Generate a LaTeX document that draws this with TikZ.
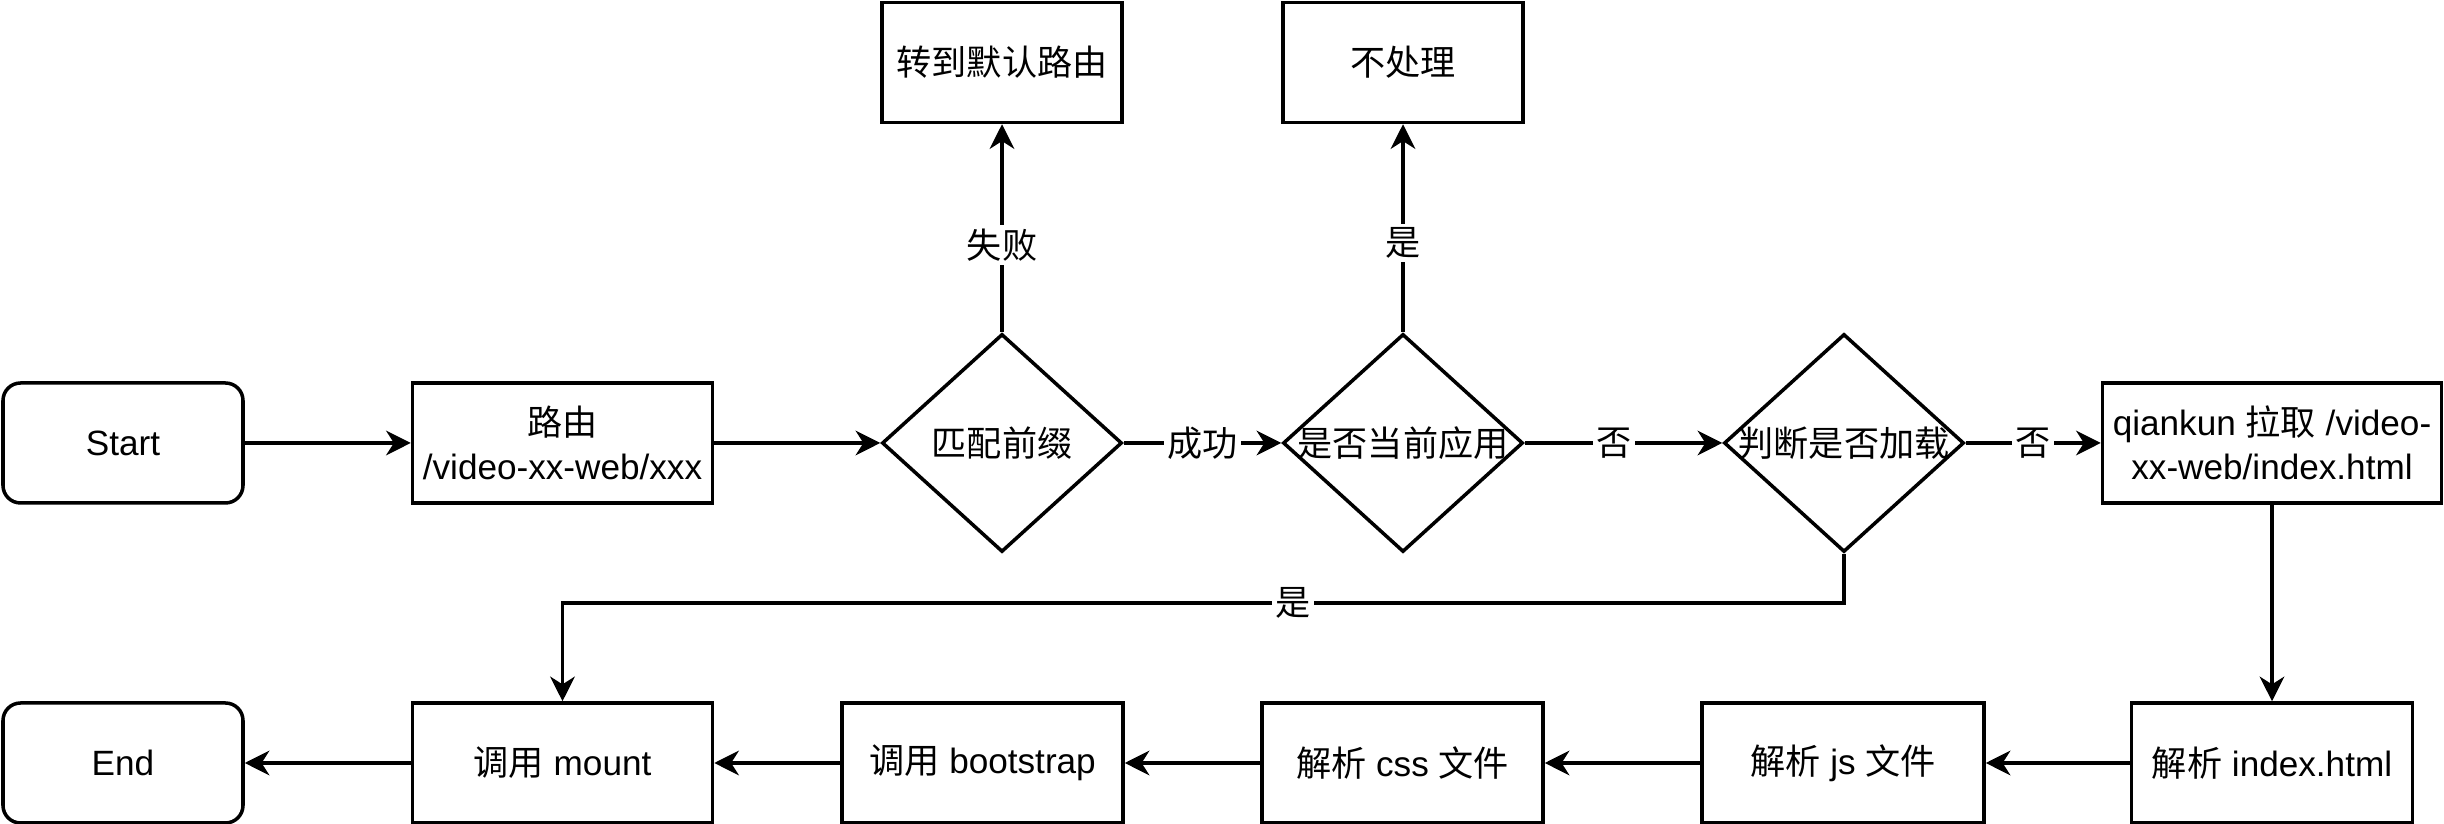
\documentclass[tikz,border=0pt]{standalone}
\usepackage{fontspec}
\setmainfont{Liberation Sans}
\newfontfamily\cjk{Noto Sans CJK SC}
\usepackage{tikz}
\usetikzlibrary{shapes.geometric, arrows.meta, positioning, calc}
\tikzset{
  arr/.style={-{Stealth[length=7pt, width=7pt, inset=2.2pt]}, line width=1pt, black},
  procbox/.style={rectangle, draw=black, line width=1pt, minimum height=1.2cm, align=center, inner sep=2pt},
  termbox/.style={rectangle, rounded corners=5pt, draw=black, line width=1pt, minimum width=2.4cm, minimum height=1.2cm, align=center},
  decision/.style={diamond, draw=black, line width=1pt, minimum width=2.4cm, minimum height=2.18cm, inner sep=0pt},
  lbl/.style={fill=white, inner sep=1pt},
}

\begin{document}
\begin{tikzpicture}[font=\fontsize{10}{12.5}\selectfont]
  \useasboundingbox (0,0) rectangle (24.44,-8.24);

  % Top row
  \node[termbox] (start) at (1.23,-4.43) {Start};
  \node[procbox, minimum width=3.0cm] (route) at (5.625,-4.43) {{\cjk 路由}\\/video-xx-web/xxx};
  \node[decision, label=center:{\cjk 匹配前缀}] (match) at (10.02,-4.43) {};
  \node[decision, label=center:{\cjk 是否当前应用}] (current) at (14.03,-4.43) {};
  \node[decision, label=center:{\cjk 判断是否加载}] (loaded) at (18.44,-4.43) {};
  \node[procbox, minimum width=3.39cm] (fetch) at (22.72,-4.43) {qiankun {\cjk 拉取} /video-\\xx-web/index.html};

  % Dead ends
  \node[procbox, minimum width=2.4cm] (default) at (10.02,-0.625) {\cjk 转到默认路由};
  \node[procbox, minimum width=2.4cm] (nohandle) at (14.03,-0.625) {\cjk 不处理};

  % Bottom row
  \node[procbox, minimum width=2.81cm] (index) at (22.72,-7.63) {{\cjk 解析} index.html};
  \node[procbox, minimum width=2.82cm] (js) at (18.43,-7.63) {{\cjk 解析} js {\cjk 文件}};
  \node[procbox, minimum width=2.81cm] (css) at (14.025,-7.63) {{\cjk 解析} css {\cjk 文件}};
  \node[procbox, minimum width=2.81cm] (boot) at (9.825,-7.63) {{\cjk 调用} bootstrap};
  \node[procbox, minimum width=3.0cm] (mount) at (5.625,-7.63) {{\cjk 调用} mount};
  \node[termbox] (end) at (1.23,-7.63) {End};

  \draw[arr] (start) -- (route);
  \draw[arr] (route) -- (match);
  \draw[arr] (match) -- node[lbl, pos=0.42] {\cjk 失败} (default);
  \draw[arr] (match) -- node[lbl] {\cjk 成功} (current);
  \draw[arr] (current) -- node[lbl, pos=0.43] {\cjk 是} (nohandle);
  \draw[arr] (current) -- node[lbl, pos=0.45] {\cjk 否} (loaded);
  \draw[arr] (loaded) -- node[lbl] {\cjk 否} (fetch);
  \draw[arr] (loaded.south) -- (loaded.south |- 0,-6.03) -- node[lbl, pos=0.43] {\cjk 是} (mount.north |- 0,-6.03) -- (mount.north);
  \draw[arr] (fetch) -- (index);

  \foreach \a/\b in {index/js, js/css, css/boot, boot/mount, mount/end} { \draw[arr] (\a) -- (\b); }
\end{tikzpicture}
\end{document}
